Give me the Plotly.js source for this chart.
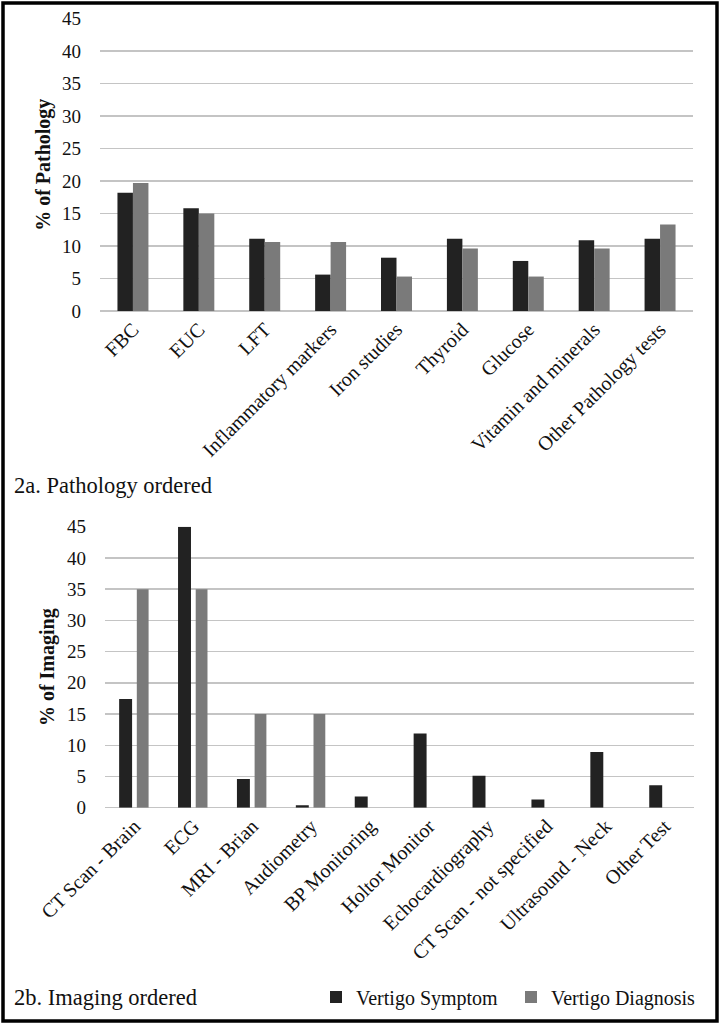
<!DOCTYPE html>
<html>
<head>
<meta charset="utf-8">
<script src="https://cdn.plot.ly/plotly-3.0.1.min.js"></script>
<style>
html,body{margin:0;padding:0;background:#fff;}
#chart{width:720px;height:1024px;}
</style>
</head>
<body>
<div id="chart"></div>
<script>
// ---- Data ----
const pathCategories = ["FBC", "EUC", "LFT", "Inflammatory markers", "Iron studies", "Thyroid", "Glucose", "Vitamin and minerals", "Other Pathology tests"];
const pathSymptom   = [18.2, 15.8, 11.1, 5.6, 8.2, 11.1, 7.7, 10.9, 11.1];
const pathDiagnosis = [19.7, 15.0, 10.6, 10.6, 5.3, 9.6, 5.3, 9.6, 13.3];

const imgCategories = ["CT Scan - Brain", "ECG", "MRI - Brian", "Audiometry", "BP Monitoring", "Holtor Monitor", "Echocardiography", "CT Scan - not specified", "Ultrasound - Neck", "Other Test"];
const imgSymptom   = [17.4, 45.0, 4.6, 0.4, 1.8, 11.9, 5.1, 1.3, 8.9, 3.6];
const imgDiagnosis = [35.0, 35.0, 15.0, 15.0, 0, 0, 0, 0, 0, 0];

const yTicks = [0, 5, 10, 15, 20, 25, 30, 35, 40, 45];
const seriesNames = ["Vertigo Symptom", "Vertigo Diagnosis"];
const panelTitles = ["2a. Pathology ordered", "2b. Imaging ordered"];
const yTitles = ["% of Pathology", "% of Imaging"];

// ---- Style ----
const FONT = "'Liberation Serif', 'Times New Roman', serif";
const DARK = "#222222";
const GRAY = "#7a7a7a";
const GRID = "#c4c4c4";

const traces = [
  {type:"bar", x:pathCategories, y:pathSymptom, name:seriesNames[0], xaxis:"x", yaxis:"y",
   marker:{color:DARK}, width:0.235, offset:-0.235, legendgroup:"s", showlegend:false},
  {type:"bar", x:pathCategories, y:pathDiagnosis, name:seriesNames[1], xaxis:"x", yaxis:"y",
   marker:{color:GRAY}, width:0.235, offset:0, legendgroup:"d", showlegend:false},
  {type:"bar", x:imgCategories, y:imgSymptom, name:seriesNames[0], xaxis:"x2", yaxis:"y2",
   marker:{color:DARK}, width:0.22, offset:-0.26, legendgroup:"s", showlegend:true},
  {type:"bar", x:imgCategories, y:imgDiagnosis, name:seriesNames[1], xaxis:"x2", yaxis:"y2",
   marker:{color:GRAY}, width:0.2, offset:0.04, legendgroup:"d", showlegend:true}
];

const yTickFont = {family:FONT, size:19, color:"#111"};
const xTickFont = {family:FONT, size:20, color:"#111"};

function yAxis(domain, title){
  return {
    domain:domain, range:[0,45], tickvals:yTicks, ticktext:yTicks.map(String),
    showgrid:true, gridcolor:GRID, gridwidth:1.5, zeroline:true, zerolinecolor:GRID, zerolinewidth:1.5,
    showline:false, ticks:"", tickfont:yTickFont, ticklabelstandoff:18, automargin:false, fixedrange:true,
    title:{text:"<b>"+title+"</b>", font:{family:FONT, size:20, color:"#111"}, standoff:6}
  };
}
function xAxis(domain, anchor){
  return {
    domain:domain, anchor:anchor, type:"category", tickangle:-45, ticks:"", showline:false,
    showgrid:false, zeroline:false, tickfont:xTickFont, automargin:false, fixedrange:true, ticklabelstandoff:2
  };
}

const layout = {
  width:720, height:1024,
  margin:{l:0, r:0, t:0, b:0, autoexpand:false},
  paper_bgcolor:"#fff", plot_bgcolor:"#fff",
  font:{family:FONT, color:"#111"},
  barmode:"group",
  xaxis: xAxis([100/720, 693/720], "y"),
  yaxis: yAxis([1-311/1024, 1-18.5/1024], yTitles[0]),
  xaxis2: xAxis([105/720, 694/720], "y2"),
  yaxis2: Object.assign(yAxis([1-807.7/1024, 1-526.7/1024], yTitles[1]), {anchor:"x2"}),
  showlegend:true,
  legend:{orientation:"h", x:316/720, xanchor:"left", y:1-997/1024, yanchor:"middle",
          font:{family:FONT, size:20, color:"#111"}, bgcolor:"rgba(0,0,0,0)", itemwidth:30,
          traceorder:"normal", entrywidth:150, entrywidthmode:"pixels"},
  annotations:[
    {xref:"paper", yref:"paper", x:12/720, y:1-485/1024, xanchor:"left", yanchor:"middle",
     text:panelTitles[0], showarrow:false, font:{family:FONT, size:22.5, color:"#111"}},
    {xref:"paper", yref:"paper", x:12/720, y:1-997/1024, xanchor:"left", yanchor:"middle",
     text:panelTitles[1], showarrow:false, font:{family:FONT, size:22.5, color:"#111"}}
  ],
  shapes:[
    {type:"rect", xref:"paper", yref:"paper", x0:3/720, x1:717/720, y0:3/1024, y1:1021/1024,
     line:{color:"#000", width:3.5}, fillcolor:"rgba(0,0,0,0)", layer:"above"}
  ]
};

Plotly.newPlot("chart", traces, layout, {staticPlot:true, displayModeBar:false});
</script>
</body>
</html>
